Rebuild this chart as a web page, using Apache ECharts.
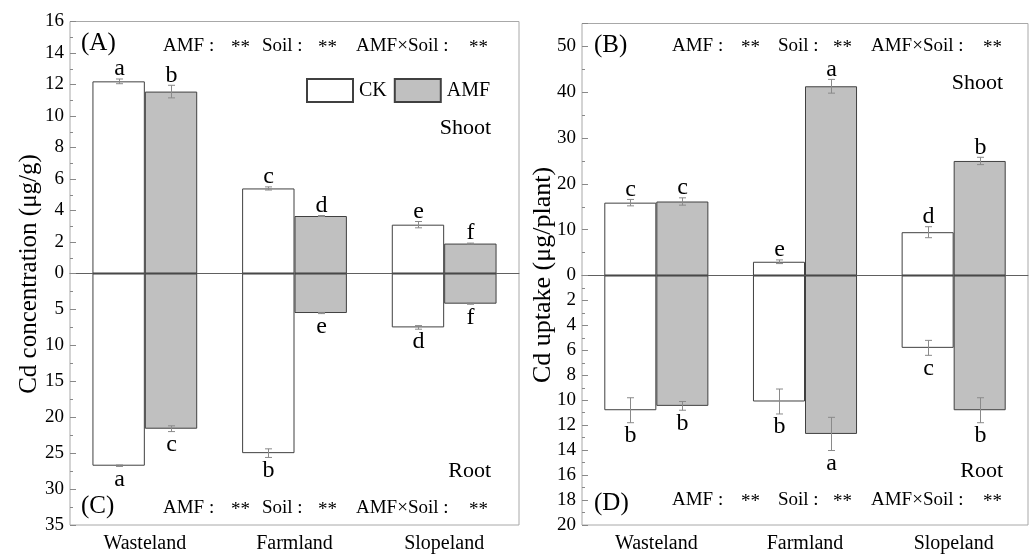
<!DOCTYPE html>
<html><head><meta charset="utf-8">
<script src="https://cdn.jsdelivr.net/npm/echarts@6/dist/echarts.min.js"></script>
<style>html,body{margin:0;padding:0;background:#fff}#c{width:1032px;height:554px}</style>
</head><body><div id="c"></div>
<script>
const categories = ['Wasteland', 'Farmland', 'Slopeland'];
// Cd concentration (μg/g)
const concShootCK = [12.2, 5.4, 3.1];
const concShootCKErr = [0.15, 0.1, 0.2];
const concShootCKLet = ['a', 'c', 'e'];
const concShootAMF = [11.55, 3.65, 1.9];
const concShootAMFErr = [0.4, 0.03, 0.03];
const concShootAMFLet = ['b', 'd', 'f'];
const concRootCK = [26.75, 25.0, 7.5];
const concRootCKErr = [0.1, 0.6, 0.25];
const concRootCKLet = ['a', 'b', 'd'];
const concRootAMF = [21.6, 5.5, 4.2];
const concRootAMFErr = [0.4, 0.08, 0.08];
const concRootAMFLet = ['c', 'e', 'f'];
// Cd uptake (μg/plant)
const uptShootCK = [15.9, 3.0, 9.45];
const uptShootCKErr = [0.7, 0.4, 1.2];
const uptShootCKLet = ['c', 'e', 'd'];
const uptShootAMF = [16.15, 41.3, 25.0];
const uptShootAMFErr = [0.8, 1.5, 0.8];
const uptShootAMFLet = ['c', 'a', 'b'];
const uptRootCK = [10.8, 10.1, 5.8];
const uptRootCKErr = [1.0, 1.0, 0.6];
const uptRootCKLet = ['b', 'b', 'c'];
const uptRootAMF = [10.45, 12.7, 10.8];
const uptRootAMFErr = [0.35, 1.33, 1.0];
const uptRootAMFLet = ['b', 'a', 'b'];

const FONT = '"Liberation Serif", "Times New Roman", serif';
const chart = echarts.init(document.getElementById('c'));

const grids = [
  {left: 70, top: 21.5, width: 449, height: 252},
  {left: 70, top: 273.5, width: 449, height: 251.5},
  {left: 582, top: 23.5, width: 446, height: 252},
  {left: 582, top: 275.5, width: 446, height: 251}
].map(g => Object.assign(g, {show: true, borderColor: '#a8a8a8', borderWidth: 1, backgroundColor: 'transparent'}));

function xAx(gi, upper) {
  return {
    type: 'category', gridIndex: gi, data: categories, position: 'bottom',
    axisLine: upper ? {show: true, onZero: true, lineStyle: {color: '#606060', width: 1}} : {show: false, onZero: false},
    axisTick: {show: false},
    axisLabel: upper ? {show: false} : {show: true, color: '#000', fontFamily: FONT, fontSize: 20, margin: 9},
    splitLine: {show: false}
  };
}
function yAx(gi, max, interval, minorSplit, inverse) {
  return {
    type: 'value', gridIndex: gi, min: 0, max: max, interval: interval, inverse: inverse,
    axisLine: {show: false},
    axisTick: {show: true, inside: true, length: 6, lineStyle: {color: '#888'}},
    minorTick: {show: true, splitNumber: minorSplit, length: 3, lineStyle: {color: '#888'}},
    axisLabel: {color: '#000', fontFamily: FONT, fontSize: 19, margin: 6, showMinLabel: !inverse, showMaxLabel: (max % interval === 0)},
    splitLine: {show: false}
  };
}

function bar(name, gi, vals) {
  const amf = name === 'AMF';
  return {
    name: name, type: 'bar', xAxisIndex: gi, yAxisIndex: gi, data: vals,
    barWidth: '35%', barGap: '0%',
    itemStyle: {color: amf ? '#c0c0c0' : '#ffffff', borderColor: '#404040', borderWidth: 1},
    emphasis: {disabled: true}, z: 2
  };
}
function errSeries(gi, vals, errs, lets, side, inverse) {
  return {
    type: 'custom', xAxisIndex: gi, yAxisIndex: gi, clip: false, z: 5, silent: true,
    data: vals.map((v, i) => [i, v, errs[i]]),
    renderItem: function (params, api) {
      const i = api.value(0), v = api.value(1), e = api.value(2);
      const bw = api.size([1, 0])[0];
      const x = Math.round(api.coord([i, 0])[0] + side * bw * 0.35 / 2) + 0.5;
      const y1 = api.coord([i, v + e])[1];
      const y2 = api.coord([i, v - e])[1];
      const c = 3.5;
      const ls = {stroke: '#8a8a8a', lineWidth: 1};
      const letter = lets[params.dataIndex];
      return {
        type: 'group', children: [
          {type: 'line', shape: {x1: x, y1: y1, x2: x, y2: y2}, style: ls},
          {type: 'line', shape: {x1: x - c, y1: y1, x2: x + c, y2: y1}, style: ls},
          {type: 'line', shape: {x1: x - c, y1: y2, x2: x + c, y2: y2}, style: ls},
          {type: 'text', x: x, y: inverse ? y1 + 1 : y1 + 2,
           style: {text: letter, fill: '#000', font: '24px ' + FONT, align: 'center', verticalAlign: inverse ? 'top' : 'bottom'}}
        ]
      };
    }
  };
}

function txt(t, x, y, size, align) {
  return {type: 'text', x: x, y: y, style: {text: t, fill: '#000', font: size + 'px ' + FONT, align: align || 'left', verticalAlign: 'middle'}, z: 10};
}
function statRow(xs, y) {
  return [
    txt('AMF :', xs[0], y, 19), txt('**', xs[1], y + 2, 19),
    txt('Soil :', xs[2], y, 19), txt('**', xs[3], y + 2, 19),
    txt('AMF×Soil :', xs[4], y, 19), txt('**', xs[5], y + 2, 19)
  ];
}
const leftXs = [163, 231, 262, 318, 356, 469];
const rightXs = [672, 741, 778, 833, 871, 983];

const graphic = [].concat(
  [txt('(A)', 81, 43, 25), txt('(C)', 81, 506, 25), txt('(B)', 594, 45, 25), txt('(D)', 594, 503, 25)],
  statRow(leftXs, 46), statRow(leftXs, 508), statRow(rightXs, 46), statRow(rightXs, 500),
  [txt('Shoot', 491, 128, 22, 'right'), txt('Root', 491, 471, 22, 'right'),
   txt('Shoot', 1003, 83, 22, 'right'), txt('Root', 1003, 471, 22, 'right')],
  [{type: 'text', x: 29, y: 274, rotation: Math.PI / 2,
    style: {text: 'Cd concentration (μg/g)', fill: '#000', font: '25px ' + FONT, align: 'center', verticalAlign: 'middle'}},
   {type: 'text', x: 543, y: 275, rotation: Math.PI / 2,
    style: {text: 'Cd uptake (μg/plant)', fill: '#000', font: '26px ' + FONT, align: 'center', verticalAlign: 'middle'}}]
);

chart.setOption({
  animation: false,
  backgroundColor: '#fff',
  textStyle: {fontFamily: FONT},
  grid: grids,
  legend: {
    data: ['CK', 'AMF'], left: 306, top: 78, padding: 0, itemGap: 7,
    itemWidth: 46, itemHeight: 23, icon: 'rect', selectedMode: false,
    textStyle: {fontFamily: FONT, fontSize: 20, color: '#000', padding: [0, 0, 0, 1]}
  },
  xAxis: [xAx(0, true), xAx(1, false), xAx(2, true), xAx(3, false)],
  yAxis: [yAx(0, 16, 2, 2, false), yAx(1, 35, 5, 2, true), yAx(2, 55, 10, 2, false), yAx(3, 20, 2, 2, true)],
  graphic: graphic,
  series: [
    bar('CK', 0, concShootCK), bar('AMF', 0, concShootAMF),
    bar('CK', 1, concRootCK), bar('AMF', 1, concRootAMF),
    bar('CK', 2, uptShootCK), bar('AMF', 2, uptShootAMF),
    bar('CK', 3, uptRootCK), bar('AMF', 3, uptRootAMF),
    errSeries(0, concShootCK, concShootCKErr, concShootCKLet, -1, false),
    errSeries(0, concShootAMF, concShootAMFErr, concShootAMFLet, 1, false),
    errSeries(1, concRootCK, concRootCKErr, concRootCKLet, -1, true),
    errSeries(1, concRootAMF, concRootAMFErr, concRootAMFLet, 1, true),
    errSeries(2, uptShootCK, uptShootCKErr, uptShootCKLet, -1, false),
    errSeries(2, uptShootAMF, uptShootAMFErr, uptShootAMFLet, 1, false),
    errSeries(3, uptRootCK, uptRootCKErr, uptRootCKLet, -1, true),
    errSeries(3, uptRootAMF, uptRootAMFErr, uptRootAMFLet, 1, true)
  ]
});
</script></body></html>
